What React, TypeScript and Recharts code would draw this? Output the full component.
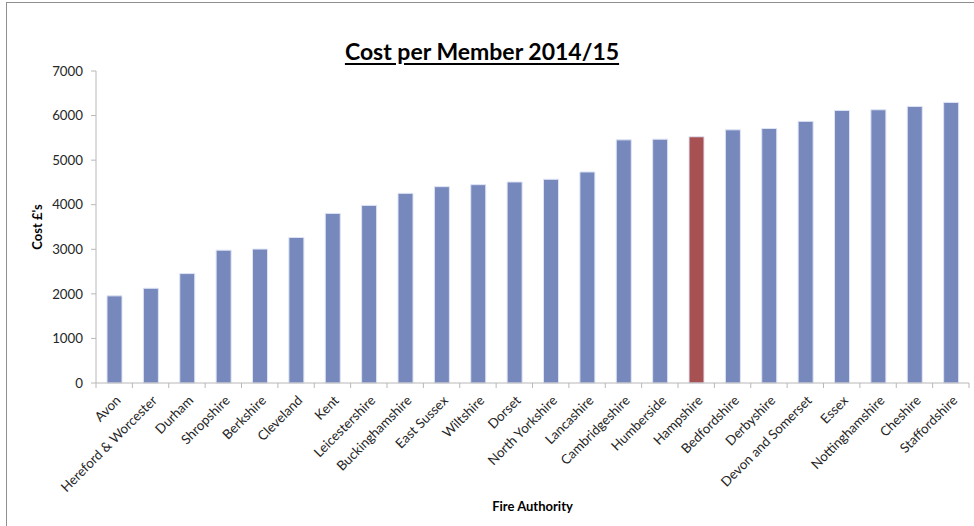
import React from "react";
import { BarChart, Bar, XAxis, YAxis, Cell } from "recharts";

const authorities = [
  "Avon", "Hereford & Worcester", "Durham", "Shropshire", "Berkshire", "Cleveland",
  "Kent", "Leicestershire", "Buckinghamshire", "East Sussex", "Wiltshire", "Dorset",
  "North Yorkshire", "Lancashire", "Cambridgeshire", "Humberside", "Hampshire",
  "Bedfordshire", "Derbyshire", "Devon and Somerset", "Essex", "Nottinghamshire",
  "Cheshire", "Staffordshire",
];
const costs = [
  1955, 2125, 2455, 2980, 3005, 3265, 3805, 3985, 4255, 4405, 4450, 4510,
  4570, 4735, 5455, 5470, 5525, 5680, 5710, 5870, 6115, 6130, 6205, 6295,
];
const highlighted = ["Hampshire"];
const yTicks = [0, 1000, 2000, 3000, 4000, 5000, 6000, 7000];

const data = authorities.map((name, i) => ({ name, cost: costs[i] }));

const FONT = "Lato, 'Open Sans', sans-serif";
const BLUE = "#7788bd";
const RED = "#a85153";

const W = 974;
const H = 526;
const MARGIN = { top: 71, right: 5, left: 0, bottom: 0 };
const Y_WIDTH = 96;
const X_HEIGHT = 143;
const BAND = (W - MARGIN.left - MARGIN.right - Y_WIDTH) / authorities.length;

const XTick = (props: any) => {
  const { x, y, payload, index } = props;
  const half = BAND / 2;
  const last = index === authorities.length - 1;
  return (
    <g>
      <line x1={x - half} x2={x - half} y1={y - 8} y2={y - 3} stroke="#b8b8b8" />
      {last && <line x1={x + half} x2={x + half} y1={y - 8} y2={y - 3} stroke="#b8b8b8" />}
      <text
        transform={`translate(${x + 4},${y + 7}) rotate(-45)`}
        textAnchor="end"
        dy="0.35em"
        fontSize={13.3}
        fontFamily={FONT}
        fill="#262626"
      >
        {payload.value}
      </text>
    </g>
  );
};

export default function App() {
  return (
    <div style={{ position: "absolute", left: 0, top: 0, width: W, height: H, overflow: "hidden", background: "#fff" }}>
      <div
        style={{
          position: "absolute",
          left: 6,
          top: 2,
          width: 1100,
          height: 1100,
          border: "1.5px solid #8f8f8f",
        }}
      />
      <div
        style={{
          position: "absolute",
          left: 0,
          width: W - 10,
          top: 37,
          textAlign: "center",
          fontFamily: FONT,
          fontWeight: 700,
          fontSize: 23,
          color: "#000",
          textDecoration: "underline",
          textUnderlineOffset: 3,
        }}
      >
        Cost per Member 2014/15
      </div>
      <div style={{ position: "absolute", left: 0, top: 0 }}>
        <BarChart width={W} height={H} data={data} margin={MARGIN} barSize={15}>
          <XAxis
            dataKey="name"
            interval={0}
            height={X_HEIGHT}
            tick={<XTick />}
            tickLine={false}
            axisLine={{ stroke: "#b8b8b8" }}
            label={{
              value: "Fire Authority",
              position: "insideBottom",
              offset: 15,
              fontFamily: FONT,
              fontWeight: 700,
              fontSize: 13,
              fill: "#000",
            }}
          />
          <YAxis
            width={Y_WIDTH}
            domain={[0, 7000]}
            ticks={yTicks}
            interval={0}
            tickSize={5}
            tickMargin={8}
            tickLine={{ stroke: "#b8b8b8" }}
            axisLine={{ stroke: "#b8b8b8" }}
            tick={{ fontFamily: FONT, fontSize: 13.3, fill: "#262626" }}
            label={{
              value: "Cost £'s",
              angle: -90,
              position: "center",
              dx: -11,
              fontFamily: FONT,
              fontWeight: 700,
              fontSize: 13,
              fill: "#000",
            }}
          />
          <Bar dataKey="cost" isAnimationActive={false} stroke="#dfe4f4" strokeWidth={1}>
            {data.map((d) => (
              <Cell key={d.name} fill={highlighted.includes(d.name) ? RED : BLUE} />
            ))}
          </Bar>
        </BarChart>
      </div>
    </div>
  );
}
